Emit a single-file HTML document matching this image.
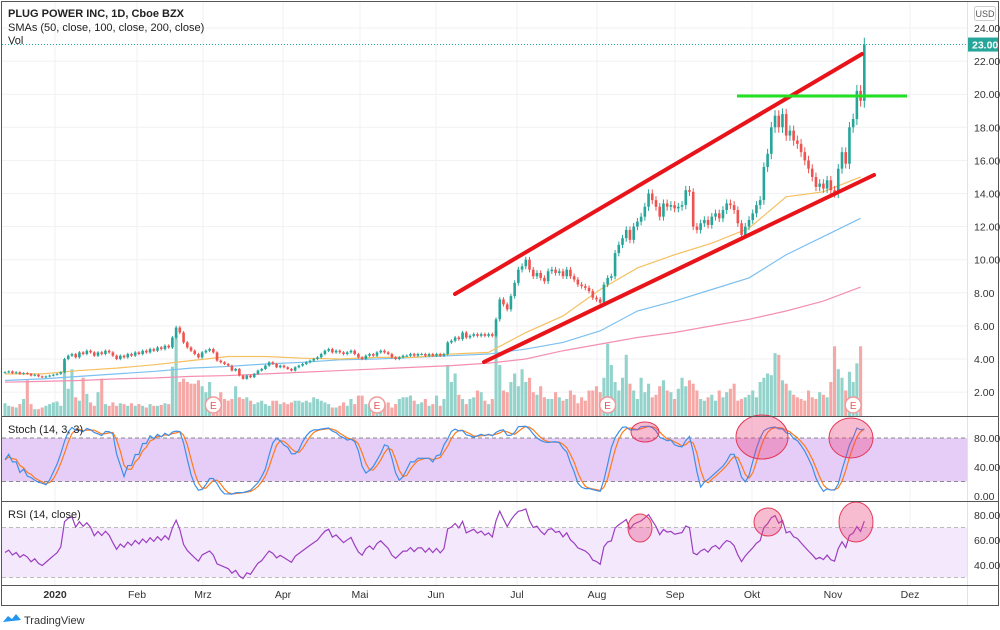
<!DOCTYPE html>
<html><head><meta charset="utf-8">
<style>
html,body{margin:0;padding:0;background:#fff;}
svg{display:block;font-family:"Liberation Sans",Arial,sans-serif;}
</style></head>
<body>
<svg id="chart" width="1000" height="630" viewBox="0 0 1000 630" xmlns="http://www.w3.org/2000/svg">
  <rect x="0" y="0" width="1000" height="630" fill="#fff"/>
  <g id="grid"></g>
  <g id="bands"></g>
  <g id="volume"></g>
  <g id="smas"></g>
  <g id="candles"></g>
  <g id="stoch"></g>
  <g id="rsi"></g>
  <g id="annot">
    <line x1="455" y1="294" x2="862" y2="54" stroke="#e8141a" stroke-width="4" stroke-linecap="round"/>
    <line x1="484" y1="362" x2="874" y2="175" stroke="#e8141a" stroke-width="4" stroke-linecap="round"/>
    <line x1="737" y1="96" x2="907" y2="96" stroke="#22e022" stroke-width="3"/>
    <ellipse cx="645" cy="432" rx="14" ry="10" fill="rgba(236,64,122,0.35)" stroke="#e53958" stroke-width="1"/>
    <ellipse cx="762" cy="437" rx="26" ry="22" fill="rgba(236,64,122,0.35)" stroke="#e53958" stroke-width="1"/>
    <ellipse cx="851" cy="438" rx="22" ry="20" fill="rgba(236,64,122,0.35)" stroke="#e53958" stroke-width="1"/>
    <ellipse cx="640" cy="528" rx="12" ry="14" fill="rgba(236,64,122,0.35)" stroke="#e53958" stroke-width="1"/>
    <ellipse cx="768" cy="522" rx="14" ry="14" fill="rgba(236,64,122,0.35)" stroke="#e53958" stroke-width="1"/>
    <ellipse cx="856" cy="522" rx="17" ry="20" fill="rgba(236,64,122,0.35)" stroke="#e53958" stroke-width="1"/>
  </g>
  <g id="earnings"></g>
  <g id="frame">
    <rect x="1.5" y="1.5" width="997" height="604" fill="none" stroke="#555" stroke-width="1"/>
    <line x1="967.5" y1="2" x2="967.5" y2="605" stroke="#e0e3eb"/>
    <line x1="2" y1="416.5" x2="998" y2="416.5" stroke="#555"/>
    <line x1="2" y1="501.5" x2="998" y2="501.5" stroke="#555"/>
    <line x1="2" y1="585.5" x2="998" y2="585.5" stroke="#555"/>
  </g>
  <g id="axes" font-size="10.5" fill="#333"></g>
  <g font-size="11" fill="#222">
    <text x="8" y="17" font-weight="bold">PLUG POWER INC, 1D, Cboe BZX</text>
    <text x="8" y="31">SMAs (50, close, 100, close, 200, close)</text>
    <text x="8" y="44">Vol</text>
    <text x="8" y="433">Stoch (14, 3, 3)</text>
    <text x="8" y="518">RSI (14, close)</text>
  </g>
  <g>
    <rect x="974.5" y="6.5" width="21" height="14" rx="2" fill="#fff" stroke="#ccc"/>
    <text x="985" y="17" font-size="9" fill="#555" text-anchor="middle">USD</text>
  </g>
  <g>
    <path d="M3 622 l5 -6 l4 3 l4 -5 l5 6 z" fill="#2196f3"/>
    <text x="24" y="624" font-size="11" fill="#333">TradingView</text>
  </g>
</svg>
<script>
const closes = [3.2,3.25,3.15,3.2,3.1,3.15,3.1,3.0,3.05,2.95,2.9,
2.95,3.0,3.05,3.1,3.2,4.0,4.2,4.3,4.1,4.4,4.3,4.5,4.4,4.2,4.4,4.3,4.5,4.4,4.2,4.0,4.2,
4.1,4.3,4.2,4.4,4.3,4.5,4.4,4.6,4.5,4.7,4.6,4.8,4.7,5.3,5.9,5.6,5.0,4.7,4.5,
4.3,4.1,4.4,4.5,4.6,4.4,3.9,3.8,3.7,3.6,3.3,3.4,3.0,2.8,3.0,2.9,3.1,3.3,3.4,3.6,3.8,3.7,
3.5,3.6,3.5,3.4,3.3,3.5,3.6,3.7,3.8,3.9,4.0,4.1,4.3,4.5,4.6,4.4,4.5,4.4,4.3,4.4,4.5,
4.3,4.1,4.0,4.2,4.3,4.2,4.4,4.5,4.4,4.3,4.1,4.0,4.1,4.2,4.2,4.3,4.2,4.3,4.3,4.2,
4.3,4.2,4.3,4.2,4.3,5.0,5.1,5.3,5.2,5.6,5.3,5.4,5.5,5.4,5.5,5.4,5.5,5.4,6.4,7.6,7.3,7.0,
7.8,8.6,9.4,9.6,10.0,9.4,9.0,9.2,8.9,8.7,9.3,9.4,9.2,9.3,9.0,9.4,9.0,8.8,8.5,8.4,8.3,8.1,7.7,
7.6,7.4,8.5,8.9,9.0,10.4,10.9,11.3,11.8,11.2,12.0,12.3,12.6,13.2,14.0,13.6,13.2,12.6,13.4,13.2,13.3,
13.1,13.2,13.3,14.2,14.1,12.0,11.8,12.2,12.4,12.1,12.6,12.8,12.5,13.0,13.4,13.3,13.0,12.2,11.5,12.0,12.4,
12.8,13.3,13.6,15.6,16.4,18.0,18.7,18.0,18.8,17.5,17.8,17.2,17.0,16.5,16.0,15.5,15.0,14.4,14.6,14.3,14.8,14.2,
14.0,15.5,16.5,15.8,18.0,18.5,20.2,19.6,23.0];
const volumes = [15,12,11,10,14,20,42,14,8,8,10,
12,14,16,17,12,65,32,55,22,18,45,26,16,12,28,44,14,12,16,12,15,
14,12,15,12,14,12,10,14,12,12,13,15,14,58,95,40,44,40,38,
38,42,35,28,40,22,18,28,20,18,20,35,22,20,22,18,14,16,18,14,12,18,
18,14,16,14,16,18,18,16,18,16,22,20,18,16,14,10,10,12,16,12,20,
14,24,24,14,14,16,14,12,14,16,10,14,20,22,22,24,18,14,16,20,
12,14,24,12,20,60,40,50,25,20,14,20,22,30,28,18,14,20,100,60,30,28,
40,50,35,55,40,45,28,25,35,22,20,20,28,22,18,20,30,25,15,22,18,30,
30,35,28,45,85,60,40,30,45,72,38,30,20,45,28,38,22,25,35,42,30,
28,20,32,45,35,42,38,30,20,18,22,25,18,30,22,28,32,38,18,20,22,
25,30,22,40,45,50,48,74,72,42,38,30,25,22,20,18,30,22,20,28,25,22,
40,82,55,45,30,52,40,62,82];
const sma50 = [3.1,3.1,3.3,3.45,3.65,3.9,4.15,4.15,4.05,4.0,4.1,4.1,4.3,4.4,5.6,6.6,8.2,9.5,10.3,11.0,11.9,13.8,14.1,15.0];
const sma100 = [2.7,2.8,2.95,3.1,3.25,3.45,3.55,3.7,3.8,3.95,4.0,4.1,4.2,4.3,4.6,5.0,5.7,6.9,7.5,8.2,8.9,10.3,11.4,12.5];
const sma200 = [2.6,2.65,2.7,2.8,2.85,2.95,3.0,3.1,3.2,3.3,3.4,3.5,3.6,3.75,4.0,4.5,4.9,5.3,5.6,6.0,6.4,6.9,7.5,8.35];
const smaStep = 10;
const priceTicks = ["2.00","4.00","6.00","8.00","10.00","12.00","14.00","16.00","18.00","20.00","22.00","24.00"];
const stochTicks = ["0.00","40.00","80.00"];
const rsiTicks = ["40.00","60.00","80.00"];
const monthLabels = ["2020","Feb","Mrz","Apr","Mai","Jun","Jul","Aug","Sep","Okt","Nov","Dez"];
const earningsIdx = [56,100,162,228];
const lastPrice = 23.00;

const NS="http://www.w3.org/2000/svg";
function mk(tag,attrs,parent){const e=document.createElementNS(NS,tag);for(const k in attrs)e.setAttribute(k,attrs[k]);parent.appendChild(e);return e;}
const X = i => 5 + i*3.72;
const Y = v => 28 + (24-v)*16.55;
const YS = v => 496 - v*0.725;
const YR = v => 565 - (v-40)*1.25;
const YV = v => 416 - v*0.85;

const grid=document.getElementById('grid'), axes=document.getElementById('axes');
priceTicks.forEach(t=>{const v=parseFloat(t),y=Y(v);
  const l=mk('line',{x1:2,x2:967,y1:y,y2:y,stroke:'#f0f1f4'},grid);
  
  
  const tx=mk('text',{x:974,y:y+4},axes);tx.textContent=t;
  
  
});
stochTicks.forEach(t=>{const y=YS(parseFloat(t));const tx=mk('text',{x:974,y:y+4},axes);tx.textContent=t;
  
  });
rsiTicks.forEach(t=>{const y=YR(parseFloat(t));const tx=mk('text',{x:974,y:y+4},axes);tx.textContent=t;
  
  });
const monthX=[55,137,203,283,360,436,517,597,675,752,833,910];
monthLabels.forEach((m,k)=>{const x=monthX[k];
  const l=mk('line',{x1:x,x2:x,y1:2,y2:585,stroke:'#f0f1f4'},grid);
  
  
  const tx=mk('text',{x:x,y:598,'text-anchor':'middle',fill:'#333'},axes);tx.textContent=m;
  
  
  if(k===0)tx.setAttribute('font-weight','bold');
});
const ly=Y(lastPrice);
const dl=mk('line',{x1:2,x2:967,y1:ly,y2:ly,stroke:'#26a69a','stroke-dasharray':'1,2'},grid);


const lb=mk('rect',{x:968,y:ly-7,width:30,height:14,fill:'#26a69a'},axes);


const lt=mk('text',{x:972,y:ly+4,fill:'#fff','font-weight':'bold'},axes);lt.textContent=lastPrice.toFixed(2);



const bands=document.getElementById('bands');
const sb=mk('rect',{x:2,y:YS(80),width:965,height:YS(20)-YS(80),fill:'#e6cdf8'},bands);


[80,20].forEach(v=>{const l=mk('line',{x1:2,x2:967,y1:YS(v),y2:YS(v),stroke:'#888','stroke-dasharray':'4,3'},bands);
  
  });
const rb=mk('rect',{x:2,y:YR(70),width:965,height:YR(30)-YR(70),fill:'#f4e8fc'},bands);


[70,30].forEach(v=>{const l=mk('line',{x1:2,x2:967,y1:YR(v),y2:YR(v),stroke:'#bbb','stroke-dasharray':'4,3'},bands);
  
  });

const opens=closes.map((c,i)=>i===0?c:closes[i-1]);
const highs=closes.map((c,i)=>Math.max(c,opens[i])+c*0.018);
const lows=closes.map((c,i)=>Math.min(c,opens[i])-c*0.018);

const vg=document.getElementById('volume');
volumes.forEach((v,i)=>{const up=closes[i]>=opens[i];
  const r=mk('rect',{x:X(i)-1.55,y:YV(v),width:3.1,height:416-YV(v),fill:up?'#93d3cb':'#f5a8a6'},vg);
  
  });

const sg=document.getElementById('smas');
[[sma200,'#f48fb1'],[sma100,'#7cc0f0'],[sma50,'#f5c060']].forEach(([arr,col])=>{
  const p=mk('polyline',{points:arr.map((v,k)=>X(Math.min(k*smaStep,closes.length-1))+','+Y(v)).join(' '),fill:'none',stroke:col,'stroke-width':1.2},sg);
  
  
});

const cg=document.getElementById('candles');
closes.forEach((c,i)=>{const o=opens[i],up=c>=o,col=up?'#26a69a':'#ef5350',x=X(i);
  const w=mk('line',{x1:x,x2:x,y1:Y(highs[i]),y2:Y(lows[i]),stroke:col,'stroke-width':1},cg);
  
  
  const t=Y(Math.max(o,c)),b=Y(Math.min(o,c));
  const r=mk('rect',{x:x-1.3,y:t,width:2.6,height:Math.max(1,b-t),fill:col},cg);
  
  
});

const raw=closes.map((c,i)=>{const s=Math.max(0,i-13);let hh=-1e9,ll=1e9;for(let j=s;j<=i;j++){hh=Math.max(hh,highs[j]);ll=Math.min(ll,lows[j]);}return hh>ll?(c-ll)/(hh-ll)*100:50;});
const sma=(a,n)=>a.map((_,i)=>{const s=Math.max(0,i-n+1);let t=0;for(let j=s;j<=i;j++)t+=a[j];return t/(i-s+1);});
const K=sma(raw,3), D=sma(K,3);
const stg=document.getElementById('stoch');
[[D,'#ff7a1a'],[K,'#3d8fe8']].forEach(([a,col])=>{
  const p=mk('polyline',{points:a.map((v,i)=>X(i)+','+YS(v)).join(' '),fill:'none',stroke:col,'stroke-width':1.2},stg);
  
  
});
const rsi=[];let ag=0.05,al=0.05;
closes.forEach((c,i)=>{if(i>0){const d=c-closes[i-1];const g=Math.max(d,0),l=Math.max(-d,0);
  ag=(ag*13+g)/14;al=(al*13+l)/14;}
  rsi.push(100-100/(1+ag/al));});
const rg=document.getElementById('rsi');
const rp=mk('polyline',{points:rsi.map((v,i)=>X(i)+','+YR(v)).join(' '),fill:'none',stroke:'#9b3fc0','stroke-width':1.2},rg);



const eg=document.getElementById('earnings');
earningsIdx.forEach(i=>{const x=X(i);
  const c=mk('circle',{cx:x,cy:405,r:8,fill:'#fff',stroke:'#f19a9a','stroke-width':1.5},eg);
  
  
  const t=mk('text',{x:x,y:409,'text-anchor':'middle','font-size':10,fill:'#e05555'},eg);t.textContent='E';
  
  
});
</script>
</body></html>
